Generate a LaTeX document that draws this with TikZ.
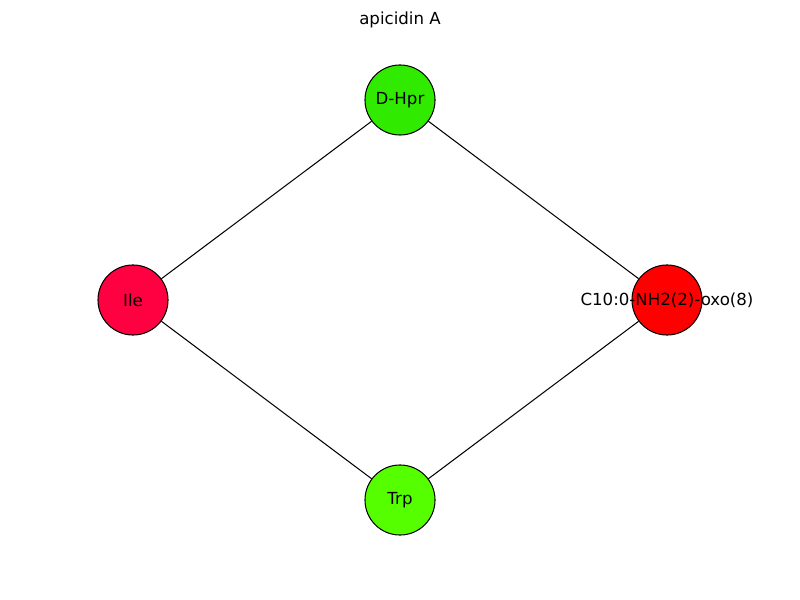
\documentclass[tikz,border=0pt]{standalone}
\usepackage{fontspec}
\setmainfont{DejaVu Sans}
\definecolor{hprgreen}{HTML}{30EB00}
\definecolor{ilered}{HTML}{FF0040}
\definecolor{c10red}{HTML}{FF0000}
\definecolor{trpgreen}{HTML}{55FF00}

\begin{document}
\begin{tikzpicture}[x=0.01in,y=-0.01in]
		\useasboundingbox (0,0) rectangle (800,600);
		\node[font=\fontsize{12}{14}\selectfont] (title) at (400,20) {apicidin A};

		\begin{scope}[every node/.style={circle,draw=black,line width=0.75pt,minimum size=0.7in,inner sep=0pt,font=\fontsize{12}{14}\selectfont}]
		    \node[fill=hprgreen,label={center:D-Hpr}] (hpr) at (400,100) {};
		    \node[fill=ilered,label={center:Ile}] (ile) at (133,300) {};
		    \node[fill=c10red,label={center:C10:0-NH2(2)-oxo(8)}] (c10) at (667,300) {};
		    \node[fill=trpgreen,label={center:Trp}] (trp) at (400,500) {};
		\end{scope}

		\begin{scope}[every edge/.style={draw=black,line width=0.75pt}]
		    \path (hpr) edge (ile);
		    \path (hpr) edge (c10);
		    \path (ile) edge (trp);
		    \path (c10) edge (trp);
		\end{scope}
\end{tikzpicture}
\end{document}
